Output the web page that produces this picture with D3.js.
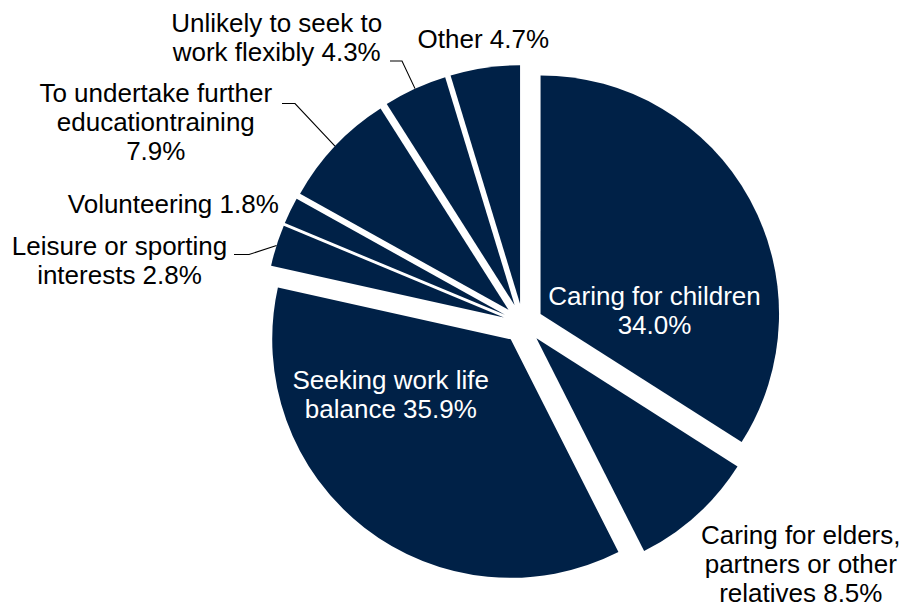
<!DOCTYPE html>
<html>
<head>
<meta charset="utf-8">
<script src="https://cdn.jsdelivr.net/npm/d3@7"></script>
<style>
  html, body { margin: 0; padding: 0; background: #ffffff; }
  svg { display: block; }
  text { font-family: "Liberation Sans", Arial, sans-serif; }
</style>
</head>
<body>
<svg id="chart" width="904" height="609"></svg>
<script>
// Reasons for working flexibly (share of respondents, %)
const categories = [
  "Caring for children",
  "Caring for elders, partners or other relatives",
  "Seeking work life balance",
  "Leisure or sporting interests",
  "Volunteering",
  "To undertake further educationtraining",
  "Unlikely to seek to work flexibly",
  "Other"
];
const values = [34.0, 8.5, 35.9, 2.8, 1.8, 7.9, 4.3, 4.7];

// How each data label wraps; {v} is replaced by the formatted value
const labelLines = [
  ["Caring for children", "{v}"],
  ["Caring for elders,", "partners or other", "relatives {v}"],
  ["Seeking work life", "balance {v}"],
  ["Leisure or sporting", "interests {v}"],
  ["Volunteering {v}"],
  ["To undertake further", "educationtraining", "{v}"],
  ["Unlikely to seek to", "work flexibly {v}"],
  ["Other {v}"]
];

// ---- layout & style ----
const cx = 523, cy = 323.5;
const radius = 238.5;
const explode = 20;           // every slice is pulled out from the centre
const fill = "#002147";
const fontSize = 26, lineHeight = 29;

// label anchor (centre x, first baseline y) and text colour, per slice
const labelPos = [
  { x: 654.5, y: 305,   color: "#ffffff" },
  { x: 800.8, y: 544,   color: "#000000" },
  { x: 390.8, y: 389,   color: "#ffffff" },
  { x: 119.5, y: 255,   color: "#000000" },
  { x: 173.3, y: 213.3, color: "#000000" },
  { x: 155.8, y: 101.7, color: "#000000" },
  { x: 276.7, y: 31.7,  color: "#000000" },
  { x: 483.3, y: 48.3,  color: "#000000" }
];
// leader lines: horizontal stub from (x0,y) to (x1,y), then to the slice's arc
const leaders = {
  3: { x0: 234, x1: 249, y: 254.5 },
  5: { x0: 282, x1: 295, y: 103.5 },
  6: { x0: 390, x1: 402, y: 61 }
};

const data = categories.map((c, i) => ({ category: c, value: values[i], index: i }));

const pie = d3.pie()
  .sort(null)
  .value(d => d.value)
  .startAngle(0)
  .endAngle(2 * Math.PI);

const arc = d3.arc().innerRadius(0).outerRadius(radius);

const arcs = pie(data);

const svg = d3.select("#chart");
const g = svg.append("g").attr("transform", `translate(${cx},${cy})`);

// offset of an exploded slice along its bisector
function offset(a) {
  const mid = (a.startAngle + a.endAngle) / 2;
  return [explode * Math.sin(mid), -explode * Math.cos(mid)];
}

g.selectAll("path.slice")
  .data(arcs)
  .join("path")
  .attr("class", "slice")
  .attr("d", arc)
  .attr("fill", fill)
  .attr("transform", a => {
    const [dx, dy] = offset(a);
    return `translate(${dx},${dy})`;
  });

// leader lines
const fmt = d3.format(".1f");
arcs.forEach(a => {
  const L = leaders[a.data.index];
  if (!L) return;
  const [dx, dy] = offset(a);
  const mid = (a.startAngle + a.endAngle) / 2;
  const ex = cx + dx + radius * Math.sin(mid);
  const ey = cy + dy - radius * Math.cos(mid);
  svg.append("path")
    .attr("d", d3.line()([[L.x0, L.y], [L.x1, L.y], [ex, ey]]))
    .attr("fill", "none")
    .attr("stroke", "#000000")
    .attr("stroke-width", 1.1);
});

// data labels
arcs.forEach(a => {
  const i = a.data.index;
  const p = labelPos[i];
  const valueText = fmt(a.data.value) + "%";
  const t = svg.append("text")
    .attr("text-anchor", "middle")
    .attr("font-size", fontSize)
    .attr("fill", p.color);
  labelLines[i].forEach((line, k) => {
    t.append("tspan")
      .attr("x", p.x)
      .attr("y", p.y + k * lineHeight)
      .text(line.replace("{v}", valueText));
  });
});
</script>
</body>
</html>
